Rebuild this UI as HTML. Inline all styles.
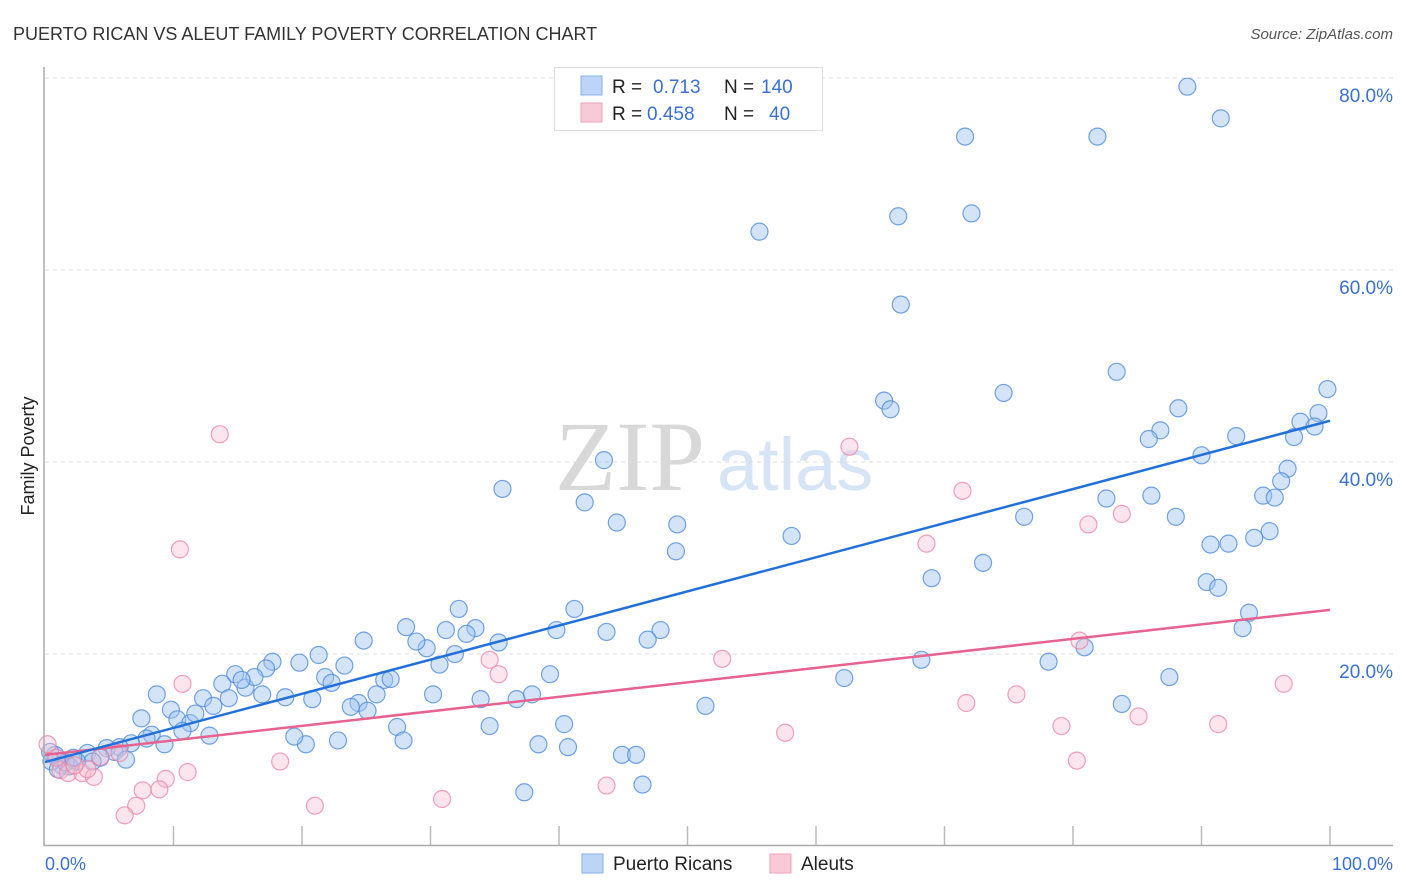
<!DOCTYPE html>
<html><head><meta charset="utf-8"><style>
body{margin:0;background:#fff;font-family:"Liberation Sans",sans-serif;}
#wrap{position:relative;width:1406px;height:892px;overflow:hidden;}
</style></head><body>
<div id="wrap">
<svg id="svg" width="1406" height="892" xmlns="http://www.w3.org/2000/svg">
<text x="13" y="40" font-size="18" fill="#333">PUERTO RICAN VS ALEUT FAMILY POVERTY CORRELATION CHART</text>
<text x="1393" y="39" font-size="15" font-style="italic" fill="#555" text-anchor="end">Source: ZipAtlas.com</text>
<text x="555" y="490" font-family="Liberation Serif,serif" font-size="100" fill="#d8d8d8">ZIP</text>
<text x="717" y="490" font-size="74" fill="#d6e4f5">atlas</text>
<text transform="translate(34,456) rotate(-90)" font-size="18" fill="#222" text-anchor="middle">Family Poverty</text>
<g id="grid"></g><g id="pts"></g><g id="lines"></g>
<line x1="44" y1="67" x2="44" y2="846" stroke="#aaa" stroke-width="1.5"/>
<line x1="44" y1="845.5" x2="1393" y2="845.5" stroke="#aaa" stroke-width="1.5"/>
<text x="45" y="870" font-size="18" fill="#3b6fd1">0.0%</text>
<text x="1393" y="870" font-size="18" fill="#3b6fd1" text-anchor="end">100.0%</text>
<g>
<rect x="554.5" y="67.5" width="268" height="63" fill="#fff" stroke="#ddd"/>
<rect x="581" y="76" width="21" height="19" fill="#bcd4f5" stroke="#8ab0ea"/>
<rect x="581" y="103" width="21" height="19" fill="#f8c9d6" stroke="#eda2b8"/>
<text x="612" y="93" font-size="19" fill="#222">R = </text><text x="653" y="93" font-size="19" fill="#3b6fd1">0.713</text>
<text x="724" y="93" font-size="19" fill="#222">N = </text><text x="761" y="93" font-size="19" fill="#3b6fd1">140</text>
<text x="612" y="120" font-size="19" fill="#222">R = </text><text x="647" y="120" font-size="19" fill="#3b6fd1">0.458</text>
<text x="724" y="120" font-size="19" fill="#222">N = </text><text x="769" y="120" font-size="19" fill="#3b6fd1">40</text>
</g>
<g>
<rect x="582" y="854" width="21" height="19" fill="#bcd4f5" stroke="#8ab0ea"/>
<text x="613" y="870" font-size="19" fill="#222">Puerto Ricans</text>
<rect x="770" y="854" width="21" height="19" fill="#f8c9d6" stroke="#eda2b8"/>
<text x="801" y="870" font-size="19" fill="#222">Aleuts</text>
</g>
</svg>
</div>
<script>
const yTicks=[20,40,60,80];
const yTickLabels=["20.0%","40.0%","60.0%","80.0%"];
const xTicks=[10,20,30,40,50,60,70,80,90,100];
const blueX=[88.9,91.5,71.6,81.9,66.4,72.1,55.6,66.6,83.4,74.6,65.3,65.8,88.2,99.8,99.1,97.7,98.8,97.2,86.8,85.9,92.7,90.0,96.7,96.2,94.8,95.7,86.1,82.6,88.0,76.2,95.3,94.1,92.1,90.7,73.0,69.0,90.4,91.3,93.7,93.2,80.9,78.1,68.2,62.2,87.5,83.8,51.4,58.1,49.1,49.2,44.5,43.5,42.0,35.6,47.9,46.9,43.7,41.2,39.8,35.3,33.5,32.8,32.2,31.2,29.7,28.9,28.1,31.9,30.7,24.8,23.3,21.3,19.8,17.7,17.2,21.8,22.3,26.4,26.9,25.8,24.4,23.8,25.1,30.2,33.9,36.7,37.9,39.3,40.4,40.7,38.4,34.6,27.4,27.9,22.8,20.3,19.4,44.9,46.0,46.5,37.3,20.8,18.7,16.9,15.6,16.3,14.8,15.3,13.8,12.3,13.1,14.3,8.7,9.8,10.3,11.3,11.7,10.7,12.8,7.5,8.3,9.3,7.9,6.7,5.8,4.8,5.4,3.3,6.3,4.3,3.7,2.5,1.9,1.3,0.8,0.4,0.5,1.0,1.6,2.2];
const blueY=[79.2,75.9,74.0,74.0,65.7,66.0,64.1,56.5,49.5,47.3,46.5,45.6,45.7,47.7,45.2,44.3,43.8,42.7,43.4,42.5,42.8,40.8,39.4,38.1,36.6,36.4,36.6,36.3,34.4,34.4,32.9,32.2,31.6,31.5,29.6,28.0,27.6,27.0,24.4,22.8,20.8,19.3,19.5,17.6,17.7,14.9,14.7,32.4,30.8,33.6,33.8,40.3,35.9,37.3,22.6,21.6,22.4,24.8,22.6,21.3,22.8,22.2,24.8,22.6,20.7,21.4,22.9,20.1,19.0,21.5,18.9,20.0,19.2,19.3,18.6,17.7,17.1,17.4,17.5,15.9,15.0,14.6,14.2,15.9,15.4,15.4,15.9,18.0,12.8,10.4,10.7,12.6,12.5,11.1,11.1,10.7,11.5,9.6,9.6,6.5,5.7,15.4,15.6,15.9,16.6,17.7,18.0,17.4,17.0,15.5,14.7,15.5,15.9,14.3,13.3,12.9,13.9,12.1,11.6,13.4,11.7,10.7,11.3,10.8,10.4,10.3,9.9,9.8,9.1,9.3,8.9,8.9,8.4,8.5,9.6,9.9,8.9,8.1,8.8,9.3];
const pinkX=[13.6,10.5,10.7,62.6,71.4,83.8,81.2,68.6,80.5,34.6,35.3,52.7,75.6,71.7,96.4,85.1,91.3,79.1,57.6,80.3,18.3,11.1,9.4,8.9,7.6,7.1,6.2,21.0,30.9,43.7,0.2,1.2,1.8,2.9,3.8,3.3,2.3,5.8,4.3,0.9];
const pinkY=[43.0,31.0,17.0,41.7,37.1,34.7,33.6,31.6,21.5,19.5,18.0,19.6,15.9,15.0,17.0,13.6,12.8,12.6,11.9,9.0,8.9,7.8,7.1,6.0,5.9,4.3,3.3,4.3,5.0,6.4,10.7,8.0,7.7,7.7,7.3,8.1,8.5,9.8,9.4,9.3];
const blueTrend=[8.85,44.4];
const pinkTrend=[9.6,24.7];
const trendX=[0,100];
const NS="http://www.w3.org/2000/svg";
function sx(v){return 45+v*12.85;}
function sy(v){return 847-v*9.6;}
const grid=document.getElementById('grid');
yTicks.forEach((t,i)=>{
 const l=document.createElementNS(NS,'line');
 l.setAttribute('x1',45);l.setAttribute('x2',1393);l.setAttribute('y1',sy(t)-1);l.setAttribute('y2',sy(t)-1);
 l.setAttribute('stroke','#ddd');l.setAttribute('stroke-dasharray','4,4');
 
 
 grid.appendChild(l);
 const tx=document.createElementNS(NS,'text');
 tx.setAttribute('x',1393);tx.setAttribute('y',sy(t)+23);tx.setAttribute('text-anchor','end');
 tx.setAttribute('font-size','19');tx.setAttribute('fill','#3b6fd1');tx.textContent=yTickLabels[i];
 
 
 grid.appendChild(tx);
});
xTicks.forEach(t=>{
 const l=document.createElementNS(NS,'line');
 l.setAttribute('x1',sx(t));l.setAttribute('x2',sx(t));l.setAttribute('y1',826);l.setAttribute('y2',846);
 l.setAttribute('stroke','#bbb');l.setAttribute('stroke-width','1.5');
 
 
 grid.appendChild(l);
});
const pts=document.getElementById('pts');
function dots(X,Y,fill,stroke,name){
 X.forEach((x,i)=>{
  const c=document.createElementNS(NS,'circle');
  c.setAttribute('cx',sx(x));c.setAttribute('cy',sy(Y[i]));c.setAttribute('r',8.5);
  c.setAttribute('fill',fill);c.setAttribute('stroke',stroke);c.setAttribute('stroke-width','1.2');
  
  
  pts.appendChild(c);
 });
}
dots(blueX,blueY,'rgba(160,196,240,0.45)','rgba(80,140,220,0.8)','puerto-rican-point');
dots(pinkX,pinkY,'rgba(248,190,208,0.4)','rgba(235,130,165,0.75)','aleut-point');
const lines=document.getElementById('lines');
function trend(T,col,name){
 const l=document.createElementNS(NS,'line');
 l.setAttribute('x1',sx(trendX[0]));l.setAttribute('y1',sy(T[0]));l.setAttribute('x2',sx(trendX[1]));l.setAttribute('y2',sy(T[1]));
 l.setAttribute('stroke',col);l.setAttribute('stroke-width','2.5');
 
 
 lines.appendChild(l);
}
trend(pinkTrend,'#e8628f','aleut-trend-line');
trend(blueTrend,'#2370d8','puerto-rican-trend-line');
</script>
</body></html>
